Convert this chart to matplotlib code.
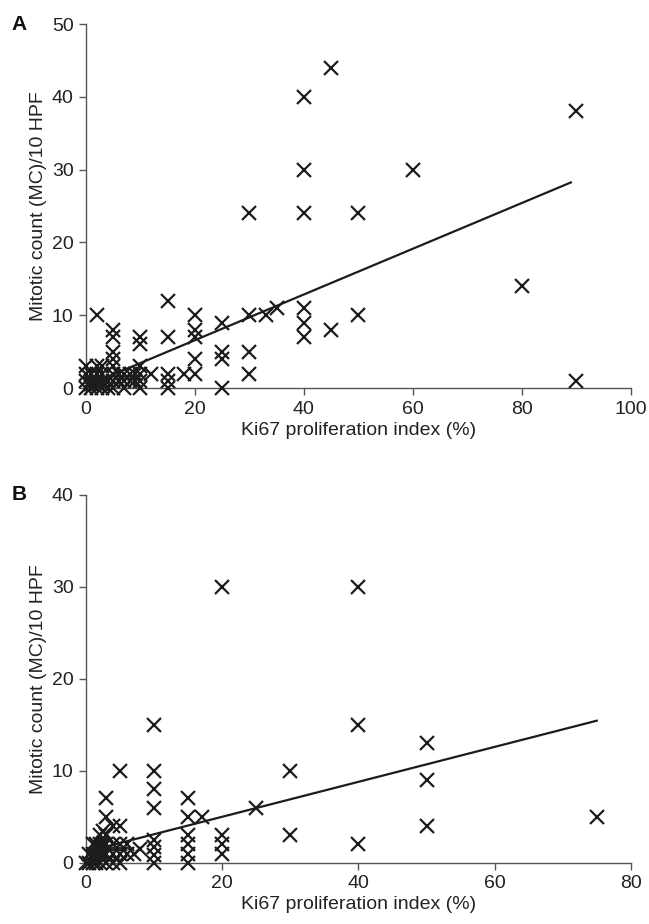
import matplotlib
matplotlib.use('Agg')
import matplotlib.pyplot as plt
import numpy as np

plt.rcParams['font.family'] = ['Liberation Sans', 'DejaVu Sans']

# Panel A: Ki67 index vs mitotic count
ki67_a = [45, 40, 90, 40, 60, 30, 40, 50, 80, 40, 40, 40, 45, 50, 35, 33, 30, 30, 30, 90,
          25, 25, 25, 25, 20, 20, 20, 20, 20, 18, 15, 15, 15, 15, 15, 12,
          10, 10, 10, 10, 10, 10, 2, 5, 5, 5, 5, 5, 5, 5, 5,
          0, 0, 0, 0, 1, 1, 1, 2, 2, 2, 2, 3, 3, 3, 3, 4, 4, 6, 6, 7, 7, 8, 8, 9, 9, 7, 3, 1, 2]
mc_a = [44, 40, 38, 30, 30, 24, 24, 24, 14, 11, 9, 7, 8, 10, 11, 10, 10, 5, 2, 1,
        9, 5, 4, 0, 10, 8, 7, 4, 2, 2, 12, 7, 2, 1, 0, 2,
        7, 6, 3, 2, 1, 0, 10, 8, 7, 5, 4, 3, 2, 1, 0,
        3, 0, 1, 2, 0, 1, 2, 3, 2, 1, 0, 2, 1, 0, 3, 1, 0, 2, 1, 2, 0, 1, 2, 1, 2, 1, 0.5, 0.5, 0.5]
slope_a, icpt_a = 0.314, 0.3
fit_range_a = [0, 89]

# Panel B
ki67_b = [40, 20, 40, 50, 30, 50, 25, 30, 40, 50, 75,
          10, 5, 10, 10, 10, 3, 3, 4, 5,
          15, 15, 17, 15, 15, 15, 15, 20, 20, 20,
          10, 10, 10, 10,
          0, 0.5, 0.5, 1, 1, 1, 1.5, 1.5, 1.5, 2, 2, 2, 2, 2.5, 2.5,
          3, 3, 3, 3, 4, 4, 4, 5, 5, 5, 6, 6, 7, 8, 2.5]
mc_b = [30, 30, 15, 13, 10, 9, 6, 3, 2, 4, 5,
        15, 10, 10, 8, 6, 7, 5, 4, 4,
        7, 5, 5, 3, 2, 1, 0, 3, 2, 1,
        2.5, 1.7, 0.8, 0,
        0, 0, 1, 0, 1, 2, 0, 1, 2, 0, 1, 2, 3, 1, 2,
        0, 1, 2, 3, 1, 2, 0, 1, 2, 0, 1, 2, 1, 1.5, 3.5]
slope_b, icpt_b = 0.19, 1.2
fit_range_b = [0, 75]

xlabel = 'Ki67 proliferation index (%)'
ylabel = 'Mitotic count (MC)/10 HPF'

fig = plt.figure(figsize=(6.49, 9.24), dpi=100)
ax_a = fig.add_axes([0.1325, 0.580, 0.8395, 0.394])
ax_b = fig.add_axes([0.1325, 0.0663, 0.8395, 0.398])


def style_panel(ax, x, y, slope, icpt, fit_range, xmax, ymax, letter):
    ax.plot(x, y, linestyle='none', marker='x', markersize=9.5, markeredgewidth=1.6,
            color='#1c1c1c', clip_on=False, zorder=3)
    xs = np.array(fit_range)
    ax.plot(xs, slope * xs + icpt, color='#1c1c1c', linewidth=1.6, zorder=2)
    ax.set_xlim(0, xmax)
    ax.set_ylim(0, ymax)
    ax.set_xticks(np.arange(0, xmax + 1, 20))
    ax.set_yticks(np.arange(0, ymax + 1, 10))
    for s in ['top', 'right']:
        ax.spines[s].set_visible(False)
    for s in ['left', 'bottom']:
        ax.spines[s].set_color('#555555')
        ax.spines[s].set_linewidth(1.0)
    ax.tick_params(direction='out', length=5, width=1.0, color='#555555',
                   labelsize=14, labelcolor='#222222', pad=4)
    ax.set_xlabel(xlabel, fontsize=14, color='#222222', labelpad=3)
    ax.set_ylabel(ylabel, fontsize=14, color='#222222', labelpad=3)
    ax.text(-0.136, 1.0, letter, transform=ax.transAxes, fontsize=15,
            fontweight='bold', va='center', ha='left', color='#111111')


style_panel(ax_a, ki67_a, mc_a, slope_a, icpt_a, fit_range_a, 100, 50, 'A')
style_panel(ax_b, ki67_b, mc_b, slope_b, icpt_b, fit_range_b, 80, 40, 'B')

fig.savefig('out.png', dpi=100)
